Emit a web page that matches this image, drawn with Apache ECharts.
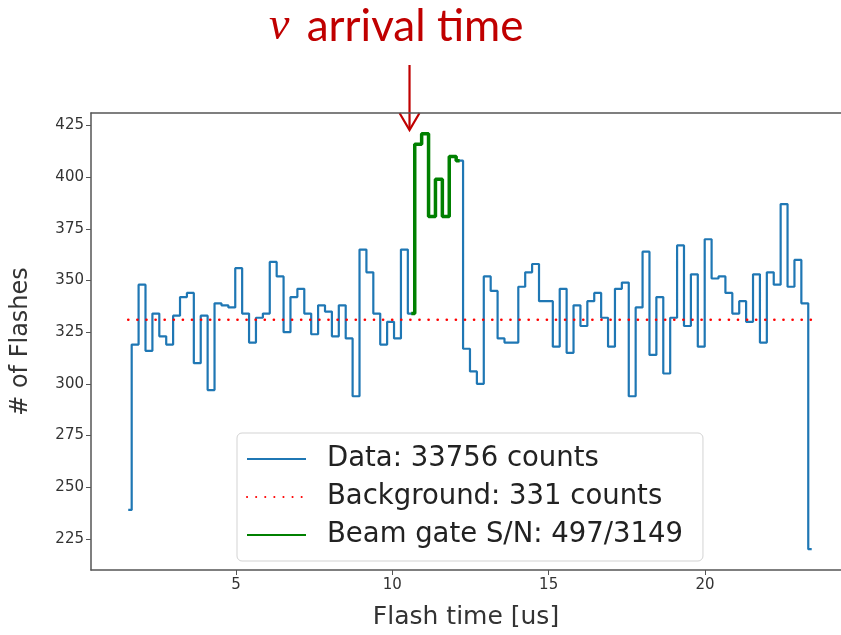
<!DOCTYPE html>
<html><head><meta charset="utf-8">
<script src="https://cdn.jsdelivr.net/npm/echarts@6/dist/echarts.min.js"></script>
<style>html,body{margin:0;padding:0;background:#fff}#c{width:841px;height:635px}</style>
</head><body><div id="c"></div>
<script>
// Histogram of flash counts per time bin
const counts = [
  239, 319, 348, 316, 334, 323, 319, 333, 342, 344,
  310, 333, 297, 339, 338, 337, 356, 334, 320, 332,
  334, 359, 352, 325, 342, 346, 334, 324, 338, 335,
  323, 338, 322, 294, 365, 354, 334, 319, 330, 322,
  365, 334, 416, 421, 381, 399, 381, 410, 408, 317,
  306, 300, 352, 345, 322, 320, 320, 347, 354, 358,
  340, 340, 318, 346, 315, 338, 328, 340, 344, 332,
  318, 346, 349, 294, 337, 364, 314, 342, 305, 332,
  367, 328, 353, 318, 370, 351, 352, 344, 334, 340,
  330, 353, 320, 354, 348, 387, 347, 360, 339, 220
];
const binStart = 1.554;   // centre of the first bin [us]
const binWidth = 0.2208;  // bin width [us]
const background = 331;
const gateFirst = 41, gateLast = 48;   // bins inside the beam gate
const xTicks = [5, 10, 15, 20];
const yTicks = [225, 250, 275, 300, 325, 350, 375, 400, 425];
const legendNames = ['Data: 33756 counts', 'Background: 331 counts', 'Beam gate S/N: 497/3149'];
const arrowTime = 10.55;

const centers = counts.map((_, i) => binStart + i * binWidth);
const dataPts = counts.map((v, i) => [centers[i], v]);
const gatePts = dataPts.slice(gateFirst, gateLast + 1);
const bgPts = [[centers[0], background], [centers[centers.length - 1], background]];

const X_MIN = 0.363, X_MAX = 24.35;   // right edge of the frame lies outside the picture
const spine = {color: '#555', width: 1.5};
const chart = echarts.init(document.getElementById('c'), null, {renderer: 'canvas'});
const tickFont = {fontFamily: 'DejaVu Sans', fontSize: 15, color: '#333'};
chart.setOption({
  animation: false,
  backgroundColor: '#fff',
  grid: {left: 91, right: 0, top: 113, bottom: 60, containLabel: false},
  xAxis: [{
    type: 'value', min: X_MIN, max: X_MAX, position: 'bottom',
    name: 'Flash time [us]', nameLocation: 'middle', nameGap: 35,
    nameTextStyle: {fontFamily: 'DejaVu Sans', fontSize: 25, color: '#333'},
    axisLine: {show: true, onZero: false, lineStyle: spine},
    axisTick: {show: true, length: 5, customValues: xTicks, lineStyle: {color: '#555'}},
    axisLabel: {customValues: xTicks, margin: 8, ...tickFont},
    splitLine: {show: false}
  }, {
    type: 'value', min: X_MIN, max: X_MAX, position: 'top',
    axisLine: {show: true, onZero: false, lineStyle: spine},
    axisTick: {show: false}, axisLabel: {show: false}, splitLine: {show: false}
  }],
  yAxis: {
    type: 'value', min: 209.9, max: 431.1,
    name: '# of Flashes', nameLocation: 'middle', nameGap: 58,
    nameTextStyle: {fontFamily: 'DejaVu Sans', fontSize: 24, color: '#333'},
    axisLine: {show: true, onZero: false, lineStyle: spine},
    axisTick: {show: true, length: 5, customValues: yTicks, lineStyle: {color: '#555'}},
    axisLabel: {customValues: yTicks, margin: 7, ...tickFont},
    splitLine: {show: false}
  },
  legend: {
    orient: 'vertical', left: 237, top: 433,
    data: legendNames, selectedMode: false,
    itemWidth: 59, itemHeight: 14, itemGap: 10,
    padding: [12, 20, 12, 9],
    itemStyle: {opacity: 0},
    backgroundColor: 'rgba(255,255,255,0.85)', borderColor: '#d3d3d3', borderWidth: 1, borderRadius: 5,
    textStyle: {fontFamily: 'DejaVu Sans', fontSize: 27.5, color: '#222', padding: [0, 0, 0, 16], lineHeight: 26}
  },
  series: [
    {name: legendNames[0], type: 'line', step: 'middle', data: dataPts, symbol: 'none', z: 2,
     lineStyle: {color: '#1f77b4', width: 2.2}, itemStyle: {color: '#1f77b4'}},
    {name: legendNames[1], type: 'line', data: bgPts, symbol: 'none', z: 3,
     lineStyle: {color: '#ff0000', width: 2.6, type: [0.1, 9], cap: 'round'}, itemStyle: {color: '#ff0000'}},
    {name: legendNames[2], type: 'line', step: 'middle', data: gatePts, symbol: 'none', z: 4,
     lineStyle: {color: '#008000', width: 3.5}, itemStyle: {color: '#008000'}}
  ]
});

const ax = chart.convertToPixel({xAxisIndex: 0}, arrowTime);
chart.setOption({
  graphic: [
    {type: 'text', x: 269, y: 27, style: {
      text: '{nu|ν} arrival time', verticalAlign: 'middle', align: 'left',
      fill: '#c00000', font: '44px Lato',
      rich: {nu: {fontFamily: 'Liberation Serif', fontStyle: 'italic', fontSize: 46, fill: '#c00000', padding: [0, 6, 0, 0]}}
    }},
    {type: 'line', shape: {x1: ax, y1: 65, x2: ax, y2: 129}, style: {stroke: '#c00000', lineWidth: 2.2}},
    {type: 'polyline', shape: {points: [[ax - 10, 113], [ax, 130], [ax + 10, 113]]}, style: {stroke: '#c00000', lineWidth: 2.2, fill: null}}
  ]
});
</script></body></html>
